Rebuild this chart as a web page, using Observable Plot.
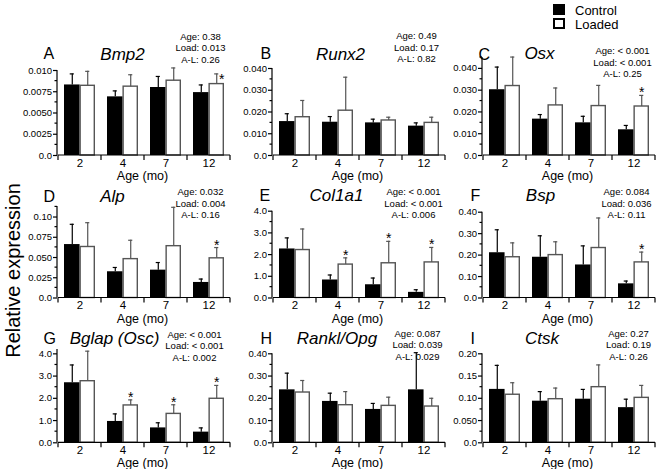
<!DOCTYPE html>
<html><head><meta charset="utf-8">
<script src="https://cdn.jsdelivr.net/npm/d3@7"></script>
<script src="https://cdn.jsdelivr.net/npm/@observablehq/plot@0.6"></script>
<style>
body{margin:0;background:#fff;}
#fig{position:relative;width:661px;height:469px;overflow:hidden;font-family:"Liberation Sans",Arial,sans-serif;background:#fff;}
#fig svg{position:absolute;}
.sw{position:absolute;box-sizing:border-box;width:12px;height:11px;}
.lg{position:absolute;font-size:13px;line-height:13px;color:#000;white-space:nowrap;}
</style></head><body><div id="fig"></div>
<script>
// ---------------- data ----------------
const ages = ["2", "4", "7", "12"];
const genes = ["Bmp2", "Runx2", "Osx", "Alp", "Col1a1", "Bsp", "Bglap (Osc)", "Rankl/Opg", "Ctsk"];
const letters = ["A", "B", "C", "D", "E", "F", "G", "H", "I"];
const controlMean = [
  [0.0083, 0.0069, 0.0080, 0.0074],
  [0.0156, 0.0153, 0.0150, 0.0135],
  [0.0302, 0.0167, 0.0150, 0.0118],
  [0.066, 0.0324, 0.0344, 0.0192],
  [2.26, 0.83, 0.61, 0.26],
  [0.211, 0.19, 0.154, 0.066],
  [2.70, 0.96, 0.67, 0.48],
  [0.238, 0.186, 0.150, 0.238],
  [0.120, 0.0935, 0.098, 0.079]
];
const controlSD = [
  [0.0013, 0.0007, 0.0013, 0.0009],
  [0.0036, 0.0026, 0.0017, 0.0015],
  [0.0104, 0.0021, 0.0030, 0.0020],
  [0.025, 0.0053, 0.0094, 0.0042],
  [0.51, 0.23, 0.31, 0.12],
  [0.107, 0.10, 0.089, 0.013],
  [0.80, 0.34, 0.23, 0.19],
  [0.075, 0.037, 0.027, 0.167],
  [0.054, 0.0215, 0.022, 0.019]
];
const loadedMean = [
  [0.0082, 0.0081, 0.0088, 0.0084],
  [0.0176, 0.0206, 0.0161, 0.0150],
  [0.0319, 0.0230, 0.0227, 0.0225],
  [0.063, 0.048, 0.064, 0.049],
  [2.21, 1.54, 1.60, 1.64],
  [0.19, 0.20, 0.233, 0.166],
  [2.77, 1.68, 1.30, 1.98],
  [0.226, 0.169, 0.166, 0.163],
  [0.108, 0.098, 0.125, 0.101]
];
const loadedSD = [
  [0.0017, 0.0014, 0.0015, 0.0012],
  [0.0077, 0.0154, 0.0015, 0.0026],
  [0.0133, 0.0080, 0.0095, 0.0051],
  [0.030, 0.0233, 0.048, 0.0133],
  [0.97, 0.31, 1.01, 0.69],
  [0.067, 0.062, 0.14, 0.048],
  [1.35, 0.25, 0.41, 0.60],
  [0.054, 0.061, 0.039, 0.037],
  [0.027, 0.025, 0.050, 0.028]
];
const significant = [["12"], [], ["12"], ["12"], ["4", "7", "12"], ["12"], ["4", "7", "12"], [], []];
const pAge  = ["0.38", "0.49", "< 0.001", "0.032", "< 0.001", "0.084", "< 0.001", "0.087", "0.27"];
const pLoad = ["0.013", "0.17", "< 0.001", "0.004", "< 0.001", "0.036", "< 0.001", "0.039", "0.19"];
const pAL   = ["0.26", "0.82", "0.25", "0.16", "0.006", "0.11", "0.002", "0.029", "0.26"];
const yMax = [0.010, 0.040, 0.045, 0.113, 4.0, 0.40, 4.2, 0.40, 0.20];
const yTicks = [
  [0, 0.0025, 0.005, 0.0075, 0.01],
  [0, 0.01, 0.02, 0.03, 0.04],
  [0, 0.01, 0.02, 0.03, 0.04],
  [0, 0.025, 0.05, 0.075, 0.1],
  [0, 1, 2, 3, 4],
  [0, 0.1, 0.2, 0.3, 0.4],
  [0, 1, 2, 3, 4],
  [0, 0.1, 0.2, 0.3, 0.4],
  [0, 0.05, 0.1, 0.15, 0.2]
];
const yTickLabels = [
  ["0.0", "0.0025", "0.0050", "0.0075", "0.010"],
  ["0.0", "0.010", "0.020", "0.030", "0.040"],
  ["0.0", "0.010", "0.020", "0.030", "0.040"],
  ["0.0", "0.025", "0.050", "0.075", "0.10"],
  ["0.0", "1.0", "2.0", "3.0", "4.0"],
  ["0.0", "0.10", "0.20", "0.30", "0.40"],
  ["0.0", "1.0", "2.0", "3.0", "4.0"],
  ["0.0", "0.10", "0.20", "0.30", "0.40"],
  ["0.0", "0.050", "0.10", "0.15", "0.20"]
];
const xLabel = "Age (mo)";
const yLabel = "Relative expression";
const seriesNames = ["Control", "Loaded"];

// ---------------- layout (page pixels) ----------------
const colAxisX = [57, 272, 482];
const colCellLeft = [0, 232, 447];
const colCellWidth = [232, 215, 214];
const rowCellTop = [0, 181, 326];
const rowCellHeight = [181, 145, 143];
const rowZeroY = [155, 297.5, 442.3];
const frameTopY = [70, 68, 57, 206, 210.7, 211.7, 348.9, 353.3, 353.3];
const letterPos = [[43,58],[260,58],[478,59],[43,201],[259,200],[470,200],[43,343],[260,343],[470,343]];
const titlePos = [[122,59],[340,59],[539,58],[112,201],[336,200],[540,200],[114,343],[336.5,343],[541.5,343]];
const statsPos = [[200,39],[416,38.5],[622,53.5],[200,194.5],[413,194.5],[626,194.5],[194,337],[417,336],[628,336]];
const astOffset = [[5,10],[0,2],[0,2],[0,2],[0,2],[0,2],[0,2],[0,2],[0,2]];
const plotW = 174, pI = 0.29, pO = 0.145;
const step = plotW / (ages.length - pI + 2 * pO);
const bw = step * (1 - pI);
const half = bw / 2;
const FONT = "Liberation Sans, Arial, sans-serif";

const fig = document.getElementById("fig");

function frameMark(k) {
  const maj = yTicks[k];
  const minor = [];
  for (let i = 0; i < maj.length - 1; i++) minor.push((maj[i] + maj[i + 1]) / 2);
  const d = maj[1] - maj[0];
  if (maj[maj.length - 1] + d / 2 <= yMax[k] + 1e-9) minor.push(maj[maj.length - 1] + d / 2);
  return (index, scales, values, dims) => {
    const {x, y} = scales;
    const g = d3.create("svg:g").attr("stroke", "black").attr("stroke-width", 1.2).attr("fill", "none");
    const b = typeof x.bandwidth === "function" ? x.bandwidth() : (x.bandwidth ?? bw);
    const st = x(ages[1]) - x(ages[0]);
    const pad = (st - b) / 2;
    const y0 = y(0);
    const bounds = [x(ages[0]) - pad, ...ages.map(a => x(a) + b + pad)];
    g.append("line").attr("x1", bounds[0]).attr("x2", bounds[bounds.length - 1]).attr("y1", y0).attr("y2", y0);
    bounds.forEach(v => g.append("line").attr("x1", v).attr("x2", v).attr("y1", y0).attr("y2", y0 + 5));
    g.append("line").attr("x1", dims.marginLeft).attr("x2", dims.marginLeft).attr("y1", y(yMax[k])).attr("y2", y0);
    minor.forEach(v => g.append("line").attr("x1", dims.marginLeft - 2.5).attr("x2", dims.marginLeft).attr("y1", y(v)).attr("y2", y(v)));
    return g.node();
  };
}

for (let k = 0; k < 9; k++) {
  const col = k % 3, row = Math.floor(k / 3);
  const axisX = colAxisX[col], top = frameTopY[k], zero = rowZeroY[row];
  const ml = axisX - colCellLeft[col];
  const mr = colCellWidth[col] - ml - plotW;
  const mt = top - rowCellTop[row];
  const mb = rowCellTop[row] + rowCellHeight[row] - zero;
  const rows = ages.map((a, i) => ({
    age: a, c: controlMean[k][i], cs: controlSD[k][i], l: loadedMean[k][i], ls: loadedSD[k][i],
    sig: significant[k].includes(a)
  }));
  const labs = new Map(yTicks[k].map((t, i) => [t, yTickLabels[k][i]]));
  const fa = (px, py) => ({frameAnchor: "top-left", dx: px - axisX, dy: py - top});
  const marks = [
    Plot.barY(rows, {x: "age", y: "c", fill: "black", insetRight: half}),
    Plot.barY(rows, {x: "age", y: "l", fill: "white", stroke: "#555", strokeWidth: 1.4, insetLeft: half + 0.7, insetRight: 0.7}),
    Plot.ruleX(rows, {x: "age", y1: "c", y2: d => d.c + d.cs, dx: -half / 2, stroke: "black", strokeWidth: 1.2}),
    Plot.ruleX(rows, {x: "age", y1: "l", y2: d => d.l + d.ls, dx: half / 2, stroke: "#555", strokeWidth: 1.2}),
    Plot.tickY(rows, {x: "age", y: d => d.c + d.cs, stroke: "black", strokeWidth: 1.2, insetLeft: half / 2 - 2, insetRight: bw - half / 2 - 2}),
    Plot.tickY(rows, {x: "age", y: d => d.l + d.ls, stroke: "#555", strokeWidth: 1.2, insetLeft: half * 1.5 - 2, insetRight: bw - half * 1.5 - 2}),
    Plot.text(rows.filter(d => d.sig), {x: "age", y: d => d.l + d.ls, text: () => "*", dx: half / 2 + astOffset[k][0], dy: astOffset[k][1], fontSize: 14, lineAnchor: "bottom", fill: "black"}),
    frameMark(k),
    Plot.axisY({ticks: yTicks[k], tickSize: 4, tickPadding: 1.5, tickFormat: v => labs.get(v), fontSize: 9.5, label: null, stroke: "black", strokeWidth: 1.2}),
    Plot.axisX({tickSize: 0, tickPadding: 3, fontSize: 11.5, label: null}),
    Plot.text([xLabel], {frameAnchor: "bottom", dx: -2, dy: 24.5, lineAnchor: "bottom", fontSize: 12.5, fill: "black"}),
    Plot.text([letters[k]], {...fa(...letterPos[k]), textAnchor: "start", lineAnchor: "bottom", fontSize: 16, fill: "black"}),
    Plot.text([genes[k]], {...fa(...titlePos[k]), textAnchor: "middle", lineAnchor: "bottom", fontSize: 17, fontStyle: "italic", fill: "black"}),
    Plot.text(["Age: " + pAge[k]], {...fa(statsPos[k][0], statsPos[k][1]), textAnchor: "middle", lineAnchor: "bottom", fontSize: 9.5, fill: "black"}),
    Plot.text(["Load: " + pLoad[k]], {...fa(statsPos[k][0], statsPos[k][1] + 11.5), textAnchor: "middle", lineAnchor: "bottom", fontSize: 9.5, fill: "black"}),
    Plot.text(["A-L: " + pAL[k]], {...fa(statsPos[k][0], statsPos[k][1] + 23), textAnchor: "middle", lineAnchor: "bottom", fontSize: 9.5, fill: "black"})
  ];
  if (k === 3) {
    marks.push(Plot.text([yLabel], {...fa(19.5, 270), rotate: -90, textAnchor: "middle", lineAnchor: "bottom", fontSize: 20, fill: "black"}));
  }
  const svg = Plot.plot({
    width: colCellWidth[col],
    height: rowCellHeight[row],
    marginLeft: ml, marginRight: mr, marginTop: mt, marginBottom: mb,
    x: {domain: ages, paddingInner: pI, paddingOuter: pO, label: null},
    y: {domain: [0, yMax[k]], label: null},
    style: {background: "transparent", fontFamily: FONT, fontSize: "9.5px", color: "black", overflow: "visible"},
    marks
  });
  svg.style.left = colCellLeft[col] + "px";
  svg.style.top = rowCellTop[row] + "px";
  svg.style.position = "absolute";
  svg.style.overflow = "visible";
  fig.appendChild(svg);
}

// legend
const legend = [
  {name: seriesNames[0], top: 4, style: "background:#000;"},
  {name: seriesNames[1], top: 18, style: "background:#fff;border:2px solid #000;"}
];
legend.forEach(d => {
  const s = document.createElement("div");
  s.className = "sw"; s.style.cssText = `left:553px;top:${d.top}px;` + d.style;
  fig.appendChild(s);
  const t = document.createElement("div");
  t.className = "lg"; t.style.left = "575px"; t.style.top = d.top + "px";
  t.textContent = d.name;
  fig.appendChild(t);
});
</script></body></html>
